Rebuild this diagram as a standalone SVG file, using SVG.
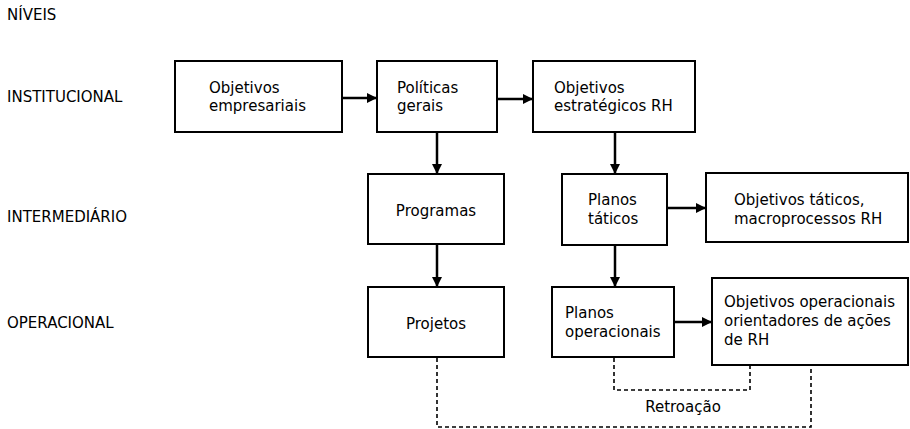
<svg xmlns="http://www.w3.org/2000/svg" width="910" height="429" viewBox="0 0 910 429">
<style>
text{font-family:"DejaVu Sans","Open Sans",sans-serif;font-size:15px;fill:#000}
.box{fill:#fff;stroke:#000;stroke-width:2}
.arr{stroke:#000;stroke-width:2.5;fill:none}
.dash{stroke:#000;stroke-width:1.6;fill:none;stroke-dasharray:4 3}
.c{text-anchor:middle}
</style>
<defs>
<marker id="ah" viewBox="0 0 10 10" refX="9" refY="5" markerWidth="4" markerHeight="4" orient="auto" markerUnits="strokeWidth">
<path d="M0,0 L10,5 L0,10 z" fill="#000"/>
</marker>
</defs>
<g id="levels">
<text x="7" y="20">NÍVEIS</text>
<text x="7" y="102">INSTITUCIONAL</text>
<text x="7" y="222">INTERMEDIÁRIO</text>
<text x="7" y="328">OPERACIONAL</text>
</g>
<g id="connectors">
<line class="arr" x1="342" y1="98" x2="376" y2="98" marker-end="url(#ah)"/>
<line class="arr" x1="497" y1="99" x2="532" y2="99" marker-end="url(#ah)"/>
<line class="arr" x1="437" y1="132" x2="437" y2="173" marker-end="url(#ah)"/>
<line class="arr" x1="615" y1="132" x2="615" y2="173" marker-end="url(#ah)"/>
<line class="arr" x1="667" y1="208" x2="705" y2="208" marker-end="url(#ah)"/>
<line class="arr" x1="437" y1="244" x2="437" y2="286" marker-end="url(#ah)"/>
<line class="arr" x1="615" y1="245" x2="615" y2="286" marker-end="url(#ah)"/>
<line class="arr" x1="674" y1="322" x2="711" y2="322" marker-end="url(#ah)"/>
<polyline class="dash" points="614,358 614,390 750,390 750,365"/>
<polyline class="dash" points="437,358 437,427 811,427 811,365"/>
<text class="c" x="683" y="412">Retroação</text>
</g>
<g id="n1"><rect class="box" x="175" y="61" width="167" height="71"/><text x="209" y="93">Objetivos<tspan x="209" dy="18">empresariais</tspan></text></g>
<g id="n2"><rect class="box" x="377" y="61" width="120" height="71"/><text x="397" y="93">Políticas<tspan x="397" dy="18">gerais</tspan></text></g>
<g id="n3"><rect class="box" x="533" y="61" width="162" height="71"/><text x="554" y="93">Objetivos<tspan x="554" dy="18">estratégicos RH</tspan></text></g>
<g id="n4"><rect class="box" x="368" y="174" width="136" height="70"/><text class="c" x="436" y="216">Programas</text></g>
<g id="n5"><rect class="box" x="562" y="174" width="105" height="71"/><text x="588" y="205">Planos<tspan x="588" dy="19">táticos</tspan></text></g>
<g id="n6"><rect class="box" x="706" y="173" width="202" height="69"/><text x="734" y="205">Objetivos táticos,<tspan x="734" dy="19">macroprocessos RH</tspan></text></g>
<g id="n7"><rect class="box" x="368" y="287" width="136" height="70"/><text class="c" x="436" y="329">Projetos</text></g>
<g id="n8"><rect class="box" x="552" y="287" width="122" height="70"/><text x="565" y="318">Planos<tspan x="565" dy="19">operacionais</tspan></text></g>
<g id="n9"><rect class="box" x="712" y="278" width="196" height="87"/><text x="724" y="307">Objetivos operacionais<tspan x="724" dy="19">orientadores de ações</tspan><tspan x="724" dy="19">de RH</tspan></text></g>
</svg>
